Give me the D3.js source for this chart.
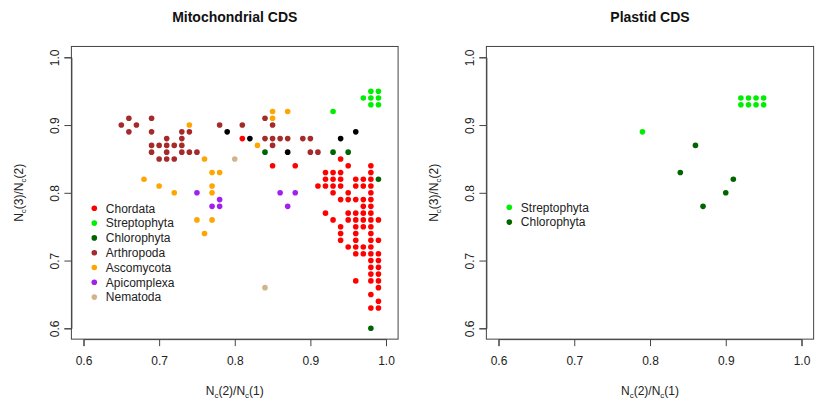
<!DOCTYPE html>
<html><head><meta charset="utf-8">
<script src="https://cdn.jsdelivr.net/npm/d3@7"></script>
<style>body{margin:0;background:#fff}svg{display:block;font-family:"Liberation Sans",Arial,sans-serif}</style>
</head><body><svg id="c" width="815" height="400"></svg>
<script>
// ---- data ----
const groups = ["Chordata","Streptophyta","Chlorophyta","Arthropoda","Ascomycota","Apicomplexa","Nematoda","Other"];
const groupColors = ["#FF0000","#00EE00","#006400","#A52A2A","#FFA500","#A020F0","#D2B48C","#000000"];
const xTicks = [0.6,0.7,0.8,0.9,1.0];
const yTicks = [0.6,0.7,0.8,0.9,1.0];

// mitochondrial: [x, y, group]
const mitoArthropoda = [[0.65,0.90],[0.66,0.91],[0.67,0.90],[0.66,0.89],[0.69,0.91],[0.69,0.89],[0.71,0.88],[0.73,0.89],[0.74,0.89],[0.73,0.88],
 [0.69,0.87],[0.70,0.87],[0.71,0.87],[0.72,0.87],[0.73,0.87],[0.69,0.86],[0.71,0.86],[0.73,0.86],[0.74,0.86],[0.75,0.86],
 [0.70,0.85],[0.71,0.85],[0.72,0.85],[0.78,0.90],[0.81,0.90],[0.84,0.91],[0.85,0.90],[0.84,0.88],[0.85,0.88],[0.86,0.88],
 [0.87,0.88],[0.89,0.88],[0.90,0.88],[0.85,0.87],[0.90,0.86],[0.91,0.86]];
const mitoAscomycota = [[0.74,0.90],[0.76,0.85],[0.68,0.82],[0.70,0.81],[0.72,0.80],[0.77,0.80],[0.77,0.81],[0.77,0.83],[0.78,0.83],
 [0.75,0.76],[0.77,0.76],[0.76,0.74],[0.85,0.92],[0.87,0.92],[0.85,0.91],[0.83,0.87]];
const mitoApicomplexa = [[0.75,0.80],[0.77,0.78],[0.78,0.78],[0.78,0.79],[0.86,0.80],[0.88,0.80],[0.87,0.78]];
const mitoNematoda = [[0.80,0.85],[0.84,0.66]];
const mitoOther = [[0.79,0.89],[0.82,0.88],[0.87,0.86],[0.94,0.88],[0.96,0.89]];
const mitoStreptophyta = [[0.93,0.92],[0.97,0.94],[0.98,0.95],[0.99,0.95],[0.98,0.94],[0.99,0.94],[0.98,0.93],[0.99,0.93]];
const mitoChlorophyta = [[0.84,0.86],[0.93,0.86],[0.95,0.86],[0.99,0.82],[0.98,0.60]];
const mitoChordata = [[0.81,0.88],[0.94,0.85],[0.85,0.84],[0.88,0.84],[0.95,0.84],[0.98,0.84],
 [0.92,0.83],[0.93,0.83],[0.94,0.83],[0.98,0.83],
 [0.92,0.82],[0.93,0.82],[0.94,0.82],[0.96,0.82],[0.97,0.82],[0.98,0.82],
 [0.91,0.81],[0.92,0.81],[0.93,0.81],[0.94,0.81],[0.96,0.81],[0.97,0.81],[0.98,0.81],
 [0.93,0.80],[0.95,0.80],[0.98,0.80],
 [0.94,0.79],[0.95,0.79],[0.96,0.79],[0.97,0.79],[0.98,0.79],
 [0.97,0.78],[0.98,0.78],
 [0.92,0.77],[0.95,0.77],[0.96,0.77],[0.97,0.77],[0.98,0.77],
 [0.93,0.76],[0.95,0.76],[0.96,0.76],[0.97,0.76],[0.98,0.76],[0.99,0.76],
 [0.94,0.75],[0.96,0.75],[0.97,0.75],[0.98,0.75],
 [0.94,0.74],[0.96,0.74],[0.98,0.74],
 [0.94,0.73],[0.96,0.73],[0.98,0.73],[0.99,0.73],
 [0.95,0.72],[0.96,0.72],[0.97,0.72],[0.98,0.72],
 [0.96,0.71],[0.97,0.71],[0.98,0.71],[0.99,0.71],
 [0.98,0.70],[0.99,0.70],[0.98,0.69],[0.99,0.69],[0.98,0.68],[0.99,0.68],
 [0.96,0.67],[0.98,0.67],[0.99,0.67],[0.99,0.66],[0.98,0.65],[0.99,0.64],[0.98,0.63],[0.99,0.63]];

const plastStreptophyta = [[0.79,0.89],[0.92,0.94],[0.93,0.94],[0.94,0.94],[0.95,0.94],[0.92,0.93],[0.93,0.93],[0.94,0.93],[0.95,0.93]];
const plastChlorophyta = [[0.86,0.87],[0.84,0.83],[0.87,0.78],[0.90,0.80],[0.91,0.82]];

const mitoSeries = [["Chordata",mitoChordata],["Arthropoda",mitoArthropoda],["Ascomycota",mitoAscomycota],["Apicomplexa",mitoApicomplexa],
  ["Nematoda",mitoNematoda],["Other",mitoOther],["Streptophyta",mitoStreptophyta],["Chlorophyta",mitoChlorophyta]];
const plastSeries = [["Streptophyta",plastStreptophyta],["Chlorophyta",plastChlorophyta]];
const mitoLegend = ["Chordata","Streptophyta","Chlorophyta","Arthropoda","Ascomycota","Apicomplexa","Nematoda"];
const plastLegend = ["Streptophyta","Chlorophyta"];

const color = d3.scaleOrdinal().domain(groups).range(groupColors);
const svg = d3.select("#c");

function panel(opts){
  const x = d3.scaleLinear().domain([0.6,1.0]).range([opts.xl, opts.xr]);
  const y = d3.scaleLinear().domain([0.6,1.0]).range([328.3, 57.3]);
  const pad = 0.016;
  const g = svg.append("g");
  // box
  g.append("rect").attr("x",x(0.6-pad)).attr("y",y(1+pad)).attr("width",x(1+pad)-x(0.6-pad)).attr("height",y(0.6-pad)-y(1+pad))
   .attr("fill","none").attr("stroke","#444").attr("stroke-width",1);
  // x axis
  const xa = g.append("g").attr("transform",`translate(0,${y(0.6-pad)})`)
    .call(d3.axisBottom(x).tickValues(xTicks).tickFormat(d3.format(".1f")).tickSize(7).tickPadding(10));
  const ya = g.append("g").attr("transform",`translate(${x(0.6-pad)},0)`)
    .call(d3.axisLeft(y).tickValues(yTicks).tickFormat(d3.format(".1f")).tickSize(7).tickPadding(5));
  [xa,ya].forEach(a=>{
    a.selectAll(".domain").attr("stroke","#444");
    a.selectAll(".tick line").attr("stroke","#444");
    a.selectAll("text").attr("font-size",12).attr("fill","#222").attr("font-family","Liberation Sans, Arial, sans-serif");
  });
  ya.selectAll(".tick text").attr("transform","rotate(-90)").attr("text-anchor","middle").attr("x",0).attr("y",-17).attr("dy","0.35em");
  // points
  opts.series.forEach(([name,pts])=>{
    g.append("g").selectAll("circle").data(pts).join("circle")
      .attr("cx",d=>x(d[0])).attr("cy",d=>y(d[1])).attr("r",2.8).attr("fill",color(name));
  });
  // title
  const cx = (x(0.6-pad)+x(1+pad))/2;
  g.append("text").attr("x",cx).attr("y",22).attr("text-anchor","middle").attr("font-size",14).attr("font-weight","bold").attr("fill","#111").text(opts.title);
  // axis titles
  const xt = g.append("text").attr("x",cx).attr("y",395).attr("text-anchor","middle").attr("font-size",12).attr("fill","#222");
  xt.append("tspan").text("N"); xt.append("tspan").attr("font-size",8).attr("dy",3).text("c");
  xt.append("tspan").attr("dy",-3).text("(2)/N"); xt.append("tspan").attr("font-size",8).attr("dy",3).text("c");
  xt.append("tspan").attr("dy",-3).text("(1)");
  const cy = (y(0.6-pad)+y(1+pad))/2;
  const yt = g.append("text").attr("transform",`translate(${x(0.6-pad)-48},${cy}) rotate(-90)`).attr("text-anchor","middle").attr("font-size",12).attr("fill","#222");
  yt.append("tspan").text("N"); yt.append("tspan").attr("font-size",8).attr("dy",3).text("c");
  yt.append("tspan").attr("dy",-3).text("(3)/N"); yt.append("tspan").attr("font-size",8).attr("dy",3).text("c");
  yt.append("tspan").attr("dy",-3).text("(2)");
  // legend
  const lg = g.append("g");
  opts.legend.forEach((name,i)=>{
    const ly = opts.ly + i*14.8;
    lg.append("circle").attr("cx",opts.lx).attr("cy",ly).attr("r",2.8).attr("fill",color(name));
    lg.append("text").attr("x",opts.lx+11.5).attr("y",ly).attr("dy","0.35em").attr("font-size",12).attr("fill","#222").text(name);
  });
}

panel({xl:83.5, xr:386, series:mitoSeries, title:"Mitochondrial CDS", legend:mitoLegend, lx:94.3, ly:208.3});
panel({xl:498.5, xr:801.5, series:plastSeries, title:"Plastid CDS", legend:plastLegend, lx:509.3, ly:207.3});
</script></body></html>
